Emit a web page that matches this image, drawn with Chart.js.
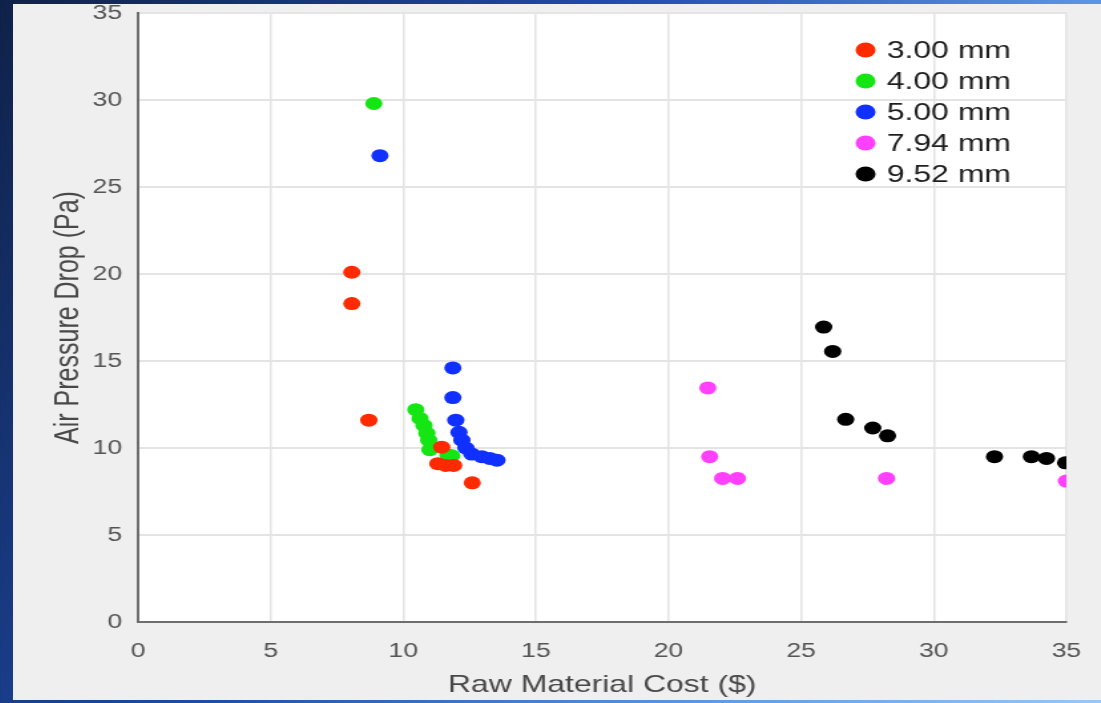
<!DOCTYPE html>
<html>
<head>
<meta charset="utf-8">
<script src="https://cdn.jsdelivr.net/npm/chart.js@4.4.1/dist/chart.umd.min.js"></script>
<style>
  html, body { margin: 0; padding: 0; }
  body {
    width: 1101px; height: 703px; overflow: hidden; position: relative;
    background: linear-gradient(120deg, #0f2148 0%, #1f4aa8 40%, #5f9be8 75%, #9cc6f4 100%);
  }
  #panel {
    position: absolute; left: 13px; top: 4px; width: 1088px; height: 696px;
    background: #efefef; overflow: hidden;
  }
  /* the source picture is stretched sideways, so draw narrow and widen it */
  #stretch {
    position: absolute; left: 0; top: 0; width: 818px; height: 696px;
    transform: scaleX(1.33); transform-origin: 0 0;
  }
</style>
</head>
<body>
<div id="panel"><div id="stretch"><canvas id="costChart"></canvas></div></div>
<script>
// tube diameters
const sizes = ['3.00 mm', '4.00 mm', '5.00 mm', '7.94 mm', '9.52 mm'];
const colors = ['#ff2a00', '#14e614', '#1030ff', '#ff40ff', '#000000'];

// raw material cost ($) / air pressure drop (Pa) for each diameter
const cost3 = [8.06, 8.06, 8.7, 11.45, 11.3, 11.6, 11.9, 12.6];
const drop3 = [20.1, 18.3, 11.6, 10.05, 9.1, 9.0, 9.0, 8.0];

const cost4 = [8.89, 10.47, 10.63, 10.78, 10.89, 10.96, 11.0, 11.68, 11.83];
const drop4 = [29.8, 12.2, 11.7, 11.3, 10.85, 10.45, 9.9, 9.6, 9.55];

const cost5 = [9.12, 11.87, 11.87, 11.98, 12.1, 12.21, 12.36, 12.58, 12.96, 13.26, 13.53];
const drop5 = [26.8, 14.6, 12.9, 11.6, 10.9, 10.45, 10.0, 9.65, 9.5, 9.4, 9.3];

const cost794 = [21.48, 21.55, 22.04, 22.6, 28.22, 35.0];
const drop794 = [13.45, 9.5, 8.25, 8.25, 8.25, 8.1];

const cost952 = [25.85, 26.19, 26.68, 27.7, 28.26, 32.29, 33.68, 34.25, 34.97];
const drop952 = [16.95, 15.55, 11.65, 11.15, 10.7, 9.5, 9.5, 9.4, 9.15];

const xTicks = [0, 5, 10, 15, 20, 25, 30, 35];
const yTicks = [0, 5, 10, 15, 20, 25, 30, 35];

const seriesX = [cost3, cost4, cost5, cost794, cost952];
const seriesY = [drop3, drop4, drop5, drop794, drop952];

function toPoints(xs, ys) {
    return xs.map(function (x, i) { return { x: x, y: ys[i] }; });
}

// white plot box
const plotBackground = {
    id: 'plotBackground',
    beforeDraw(chart) {
        const a = chart.chartArea;
        chart.ctx.save();
        chart.ctx.fillStyle = '#ffffff';
        chart.ctx.fillRect(a.left, a.top, a.right - a.left, a.bottom - a.top);
        chart.ctx.restore();
    }
};

// legend drawn inside the plot, top right, like the original figure
const insideLegend = {
    id: 'insideLegend',
    afterDraw(chart) {
        const ctx = chart.ctx;
        const area = chart.chartArea;
        ctx.save();
        ctx.font = '24px "Liberation Sans", Arial, sans-serif';
        ctx.textBaseline = 'middle';
        ctx.textAlign = 'left';
        chart.data.datasets.forEach(function (ds, i) {
            const y = area.top + 37 + i * 31;
            ctx.beginPath();
            ctx.fillStyle = ds.backgroundColor;
            ctx.arc(area.right - 151, y, 7.5, 0, Math.PI * 2);
            ctx.fill();
            ctx.fillStyle = '#1e1e1e';
            ctx.fillText(ds.label, area.right - 135, y + 1);
        });
        ctx.restore();
    }
};

const tickFont = { family: '"Liberation Sans", Arial, sans-serif', size: 20, lineHeight: 0.7 };

document.addEventListener("DOMContentLoaded", function () {
    const ctx = document.getElementById('costChart').getContext('2d');

    new Chart(ctx, {
        type: 'scatter',
        data: {
            datasets: sizes.map(function (label, i) {
                return {
                    label: label,
                    data: toPoints(seriesX[i], seriesY[i]),
                    backgroundColor: colors[i],
                    borderColor: colors[i],
                    pointRadius: 6.5,
                    pointHoverRadius: 6.5,
                    borderWidth: 0
                };
            })
        },
        options: {
            responsive: true,
            maintainAspectRatio: false,
            animation: false,
            layout: { padding: { top: 9, right: 26, left: 0, bottom: 0 } },
            plugins: {
                legend: { display: false },
                tooltip: { enabled: false }
            },
            scales: {
                x: {
                    type: 'linear',
                    min: 0,
                    max: 35,
                    afterBuildTicks: function (scale) {
                        scale.ticks = xTicks.map(function (v) { return { value: v }; });
                    },
                    afterFit: function (scale) { scale.height = 78; },
                    grid: { color: '#e4e4e4', lineWidth: 1.5, drawTicks: true, tickLength: 22, tickColor: 'rgba(0,0,0,0)' },
                    border: { color: '#6e6e6e', width: 2 },
                    ticks: {
                        color: '#555',
                        padding: 0,
                        maxRotation: 0,
                        font: tickFont
                    },
                    title: {
                        display: true,
                        text: 'Raw Material Cost ($)',
                        color: '#484848',
                        padding: 0,
                        font: { family: '"Liberation Sans", Arial, sans-serif', size: 24, lineHeight: 1.2 }
                    }
                },
                y: {
                    type: 'linear',
                    min: 0,
                    max: 35,
                    afterBuildTicks: function (scale) {
                        scale.ticks = yTicks.map(function (v) { return { value: v }; });
                    },
                    afterFit: function (scale) { scale.width = 94; },
                    grid: { color: '#e4e4e4', lineWidth: 2, drawTicks: true, tickLength: 12, tickColor: 'rgba(0,0,0,0)' },
                    border: { color: '#6e6e6e', width: 2 },
                    ticks: {
                        color: '#555',
                        padding: 0,
                        font: tickFont
                    },
                    title: {
                        display: true,
                        text: 'Air Pressure Drop (Pa)',
                        color: '#484848',
                        padding: { top: 27, bottom: 0 },
                        font: { family: '"Liberation Sans", Arial, sans-serif', size: 25, lineHeight: 1.2 }
                    }
                }
            }
        },
        plugins: [plotBackground, insideLegend]
    });
});
</script>
</body>
</html>
